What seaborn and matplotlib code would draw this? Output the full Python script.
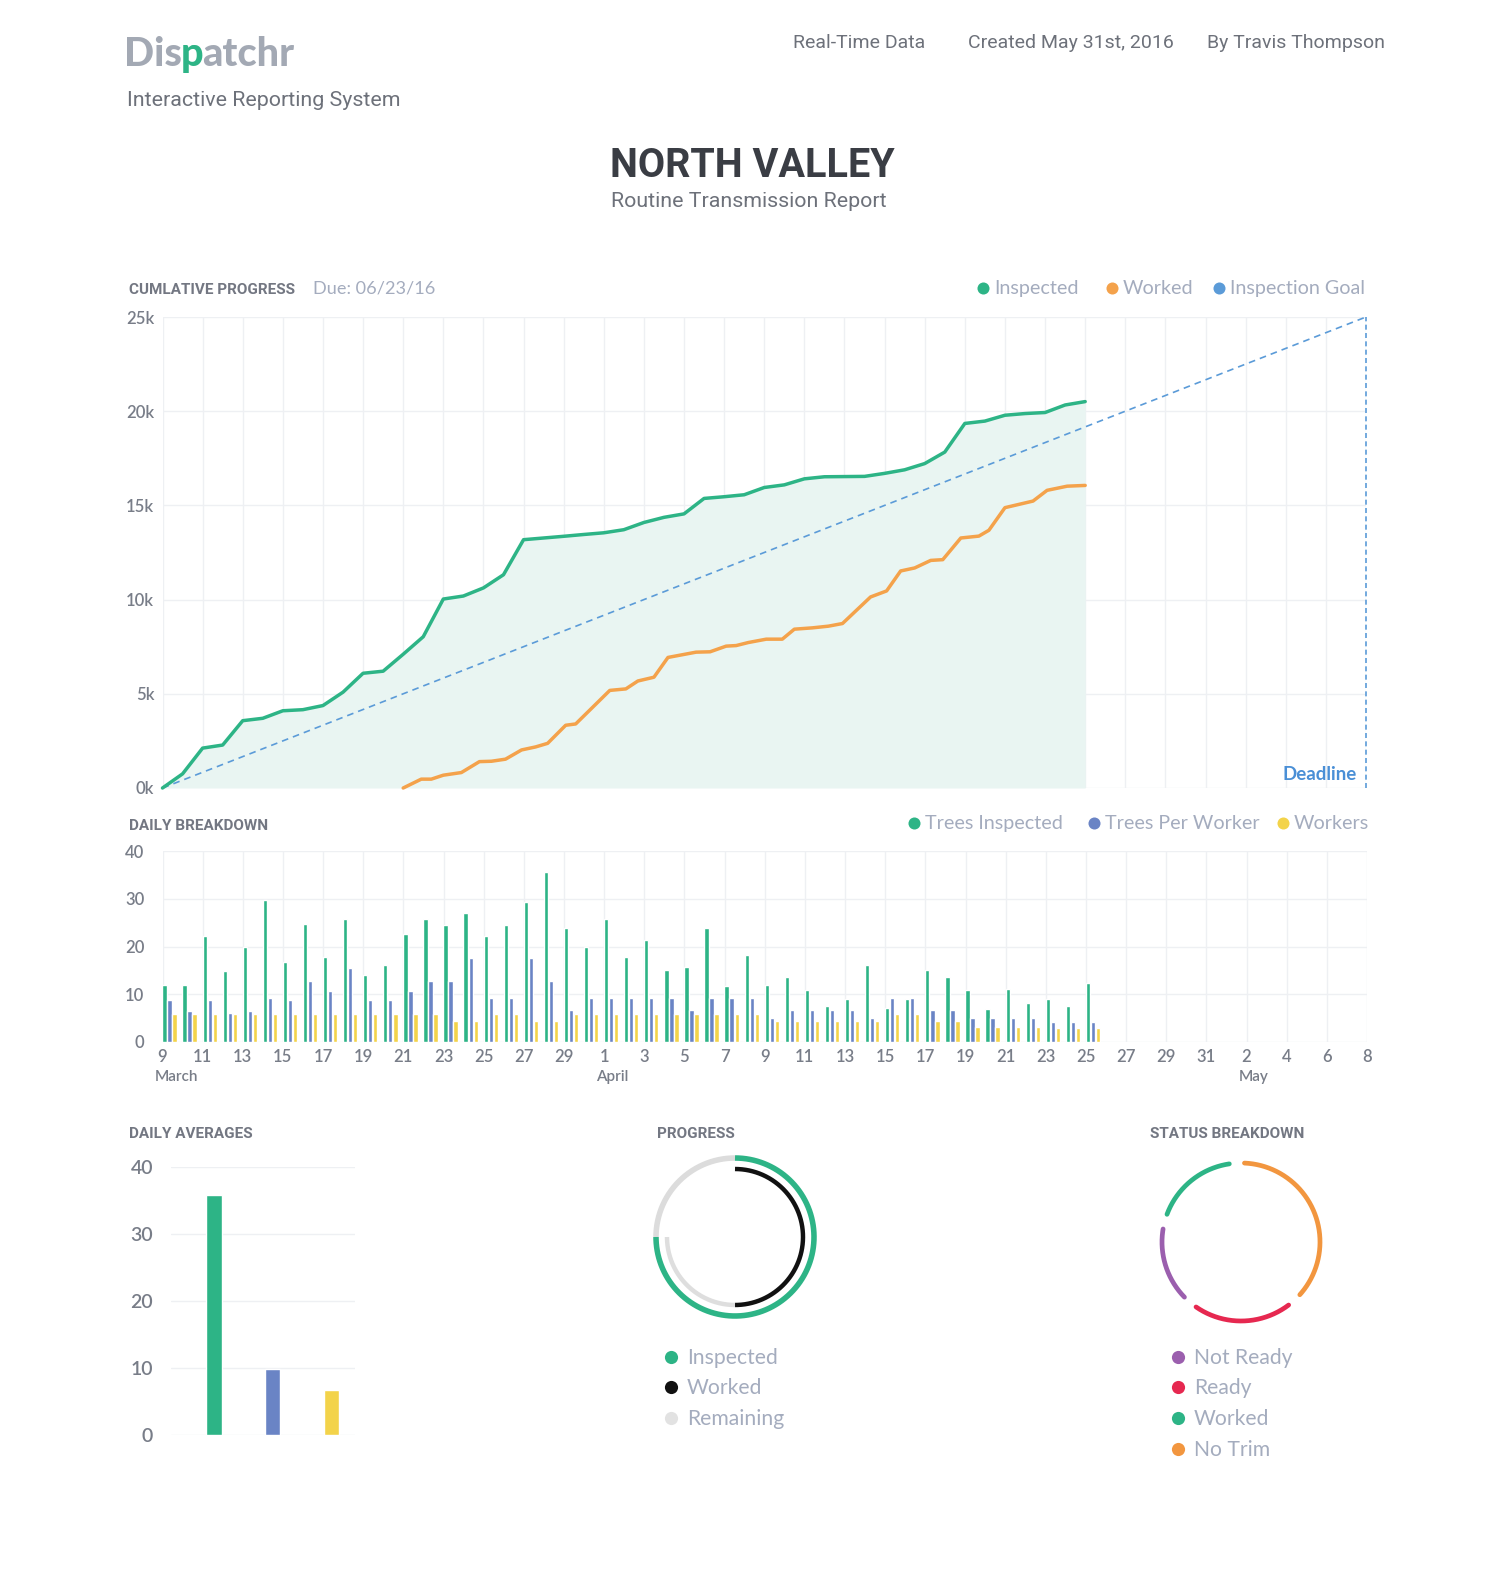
import numpy as np
import pandas as pd
import matplotlib
matplotlib.use('Agg')
import matplotlib.pyplot as plt
import matplotlib.transforms as mtransforms
import seaborn as sns

# ---- data ----
# cumulative progress (day index 0 = March 9)
days = list(range(47))
inspected_cum = [0, 750, 2117, 2280, 3573, 3700, 4100, 4157, 4376, 5087,
                 6090, 6200, 7100, 8030, 10030, 10190, 10620, 11320, 13180, 13270,
                 13360, 13456, 13546, 13710, 14093, 14366, 14550, 15370, 15460, 15565,
                 15950, 16090, 16410, 16520, 16530, 16540, 16700, 16890, 17220, 17830,
                 19350, 19475, 19785, 19875, 19930, 20330, 20510]
worked_x = [12.0, 12.9, 13.4, 14.0, 14.9, 15.8, 16.4, 17.1, 17.9, 18.6,
            19.2, 20.1, 20.6, 22.3, 23.1, 23.7, 24.5, 25.2, 26.0, 26.6,
            27.3, 28.1, 28.6, 29.2, 30.1, 30.9, 31.5, 32.4, 33.2, 33.9,
            35.3, 36.1, 36.8, 37.5, 38.3, 38.9, 39.8, 40.7, 41.2, 42.0,
            43.4, 44.1, 45.1, 46.0]
worked_cum = [0, 470, 470, 680, 820, 1400, 1420, 1530, 2020, 2180,
              2370, 3330, 3400, 5180, 5260, 5680, 5880, 6930, 7090, 7210,
              7230, 7530, 7560, 7720, 7900, 7900, 8430, 8500, 8590, 8730,
              10140, 10460, 11520, 11680, 12080, 12120, 13270, 13370, 13680, 14880,
              15230, 15800, 16020, 16060]
goal_x = [0, 60]
goal_y = [0, 25000]
deadline_day = 60

# daily breakdown
trees_inspected = [12.0, 12.0, 22.2, 14.9, 20.0, 29.7, 16.7, 24.7, 17.9, 25.8,
                   14.1, 16.2, 22.7, 25.8, 24.4, 27.1, 22.1, 24.4, 29.3, 35.5,
                   23.8, 20.0, 25.8, 17.9, 21.4, 15.1, 15.8, 23.8, 11.7, 18.3,
                   11.9, 13.7, 10.8, 7.6, 9.0, 16.2, 7.2, 9.0, 15.1, 13.7,
                   10.8, 6.9, 11.1, 8.2, 9.0, 7.6, 12.4]
trees_per_worker = [8.9, 6.4, 8.9, 6.1, 6.4, 9.2, 8.9, 12.8, 10.7, 15.4,
                    8.9, 8.9, 10.7, 12.8, 12.8, 17.6, 9.2, 9.2, 17.6, 12.8,
                    6.7, 9.2, 9.2, 9.2, 9.2, 9.2, 6.7, 9.2, 9.2, 9.2,
                    5.0, 6.8, 6.8, 6.8, 6.8, 5.0, 9.2, 9.2, 6.8, 6.8,
                    5.0, 5.0, 5.0, 5.0, 4.1, 4.1, 4.1]
workers = [5.8, 5.8, 5.8, 5.8, 5.8, 5.8, 5.8, 5.8, 5.8, 5.8,
           5.8, 5.8, 5.8, 5.8, 4.3, 4.3, 5.8, 5.8, 4.3, 4.3,
           5.8, 5.8, 5.8, 5.8, 5.8, 5.8, 5.8, 5.8, 5.8, 5.8,
           4.3, 4.3, 4.3, 4.3, 4.3, 4.3, 5.8, 5.8, 4.3, 4.3,
           3.2, 3.2, 3.2, 3.2, 3.0, 3.0, 3.0]
series_names = ['Trees Inspected', 'Trees Per Worker', 'Workers']
tick_labels = ['9', '11', '13', '15', '17', '19', '21', '23', '25', '27', '29',
               '1', '3', '5', '7', '9', '11', '13', '15', '17', '19', '21', '23',
               '25', '27', '29', '31', '2', '4', '6', '8']
month_labels = ['March', 'April', 'May']
month_ticks = [0, 22, 54]

# daily averages
avg_values = [35.8, 9.8, 6.7]

# progress rings (percent of circle)
progress_outer = [75, 25]   # Inspected, Remaining
progress_inner = [50, 25]   # Worked, Remaining

# status breakdown, clockwise from top
status_order = ['No Trim', 'Ready', 'Not Ready', 'Worked']
status_values = [39, 23, 18, 20]
status_legend = ['Not Ready', 'Ready', 'Worked', 'No Trim']

# ---- style ----
GREEN = '#2db486'
ORANGE = '#f4a24b'
BLUE = '#5b9bd8'
BAR_BLUE = '#6a84c5'
YELLOW = '#f3d34a'
FILL = '#e9f5f2'
GRID = '#eef0f3'
TICK = '#787d88'
LEG = '#a4acbe'
HEAD = '#6d717a'
status_colors = {'Not Ready': '#9b5fae', 'Ready': '#e62850', 'Worked': GREEN, 'No Trim': '#f2963f'}

sns.set_theme(style='white')
plt.rcParams['font.family'] = ['Lato', 'DejaVu Sans']
DIN = ['Roboto', 'DejaVu Sans']

W, H = 1500, 1592
fig = plt.figure(figsize=(W / 100, H / 100), dpi=100)
fig.patch.set_facecolor('white')


def box(x0, y0, x1, y1):
    return [x0 / W, 1 - y1 / H, (x1 - x0) / W, (y1 - y0) / H]


# overlay in pixel coordinates for header / legends
bg = fig.add_axes([0, 0, 1, 1])
bg.set_xlim(0, W)
bg.set_ylim(H, 0)
bg.axis('off')

# logo
fig.canvas.draw()
r = fig.canvas.get_renderer()
x = 124
for part, col in [('Dis', '#a3a9b4'), ('p', GREEN), ('atchr', '#a3a9b4')]:
    t = bg.text(x, 66, part, fontsize=28.5, fontweight='black', color=col, va='baseline')
    x += t.get_window_extent(r).width - 1

bg.text(127, 106, 'Interactive Reporting System', family=DIN, fontsize=15.4, color=HEAD, va='baseline')
bg.text(793, 48, 'Real-Time Data', family=DIN, fontsize=14, color=HEAD, va='baseline')
bg.text(968, 48, 'Created May 31st, 2016', family=DIN, fontsize=14, color=HEAD, va='baseline')
bg.text(1385, 48, 'By Travis Thompson', family=DIN, fontsize=14, color=HEAD, va='baseline', ha='right')
bg.text(752, 177, 'NORTH VALLEY', family=DIN, fontsize=28.5, fontweight='bold', color='#3a3d44',
        ha='center', va='baseline')
bg.text(749, 207, 'Routine Transmission Report', family=DIN, fontsize=15.4, color=HEAD,
        ha='center', va='baseline')

# section headings
for xh, yh, txt in [(129, 294, 'CUMLATIVE PROGRESS'), (129, 830, 'DAILY BREAKDOWN'),
                    (129, 1138, 'DAILY AVERAGES'), (657, 1138, 'PROGRESS'),
                    (1150, 1138, 'STATUS BREAKDOWN')]:
    bg.text(xh, yh, txt, family=DIN, fontsize=11, fontweight='bold', color='#737782', va='baseline')
bg.text(313, 294, 'Due: 06/23/16', fontsize=13.1, color=LEG, va='baseline')


def legend_item(x, y, label, color, size=14.2, s=75):
    bg.scatter([x], [y - 6], s=s, color=color, linewidths=0)
    bg.text(x + 11, y, label, fontsize=size, color=LEG, va='baseline')


for xl, lab, col in [(983, 'Inspected', GREEN), (1112, 'Worked', ORANGE), (1219, 'Inspection Goal', BLUE)]:
    legend_item(xl, 294, lab, col)
for xl, lab, col in [(914, series_names[0], GREEN), (1094, series_names[1], BAR_BLUE), (1283, series_names[2], YELLOW)]:
    legend_item(xl, 829, lab, col)
for yl, lab, col in zip([1364, 1394, 1425], ['Inspected', 'Worked', 'Remaining'], [GREEN, '#111111', '#e2e2e2']):
    bg.scatter([671], [yl - 7], s=90, color=col, linewidths=0)
    bg.text(687, yl, lab, fontsize=15.2, color=LEG, va='baseline')
for yl, lab in zip([1364, 1394, 1425, 1456], status_legend):
    bg.scatter([1178], [yl - 7], s=90, color=status_colors[lab], linewidths=0)
    bg.text(1194, yl, lab, fontsize=15.2, color=LEG, va='baseline')

# ---- cumulative progress ----
ax1 = fig.add_axes(box(162.5, 317, 1366, 788))
ax1.set_facecolor('none')
ax1.fill_between(days, inspected_cum, color=FILL, lw=0, zorder=1)
sns.lineplot(x=days, y=inspected_cum, color=GREEN, lw=2.5, ax=ax1, zorder=4, clip_on=False)
sns.lineplot(x=worked_x, y=worked_cum, color=ORANGE, lw=2.5, ax=ax1, zorder=4, clip_on=False)
ax1.plot(goal_x, goal_y, color=BLUE, lw=1.2, ls=(0, (4, 3)), zorder=3)
ax1.plot([deadline_day, deadline_day], [0, goal_y[-1]], color=BLUE, lw=1.2, ls=(0, (3, 2)), zorder=3,
         clip_on=False)
ax1.text(deadline_day - 0.45, 420, 'Deadline', color='#4a8fd6', fontsize=13.5, fontweight='bold',
         ha='right', va='baseline')
ax1.set_xlim(0, 60)
ax1.set_ylim(0, 25000)
ax1.set_xticks(range(0, 61, 2))
ax1.set_xticklabels([])
ax1.set_yticks(range(0, 25001, 5000))
ax1.set_yticklabels([f'{v // 1000}k' for v in range(0, 25001, 5000)])
ax1.grid(True, color=GRID, lw=1, zorder=0)
ax1.set_axisbelow(True)
ax1.set_xlabel('')
ax1.set_ylabel('')
for s in ax1.spines.values():
    s.set_visible(False)
ax1.tick_params(length=0, pad=6, labelsize=12, labelcolor=TICK)
for lab in ax1.get_yticklabels():
    lab.set_fontweight('semibold')

# ---- daily breakdown ----
ax2 = fig.add_axes(box(162.5, 851, 1367, 1042))
ax2.set_facecolor('none')
df_daily = pd.DataFrame({
    'day': days * 3,
    'value': trees_inspected + trees_per_worker + workers,
    'series': [n for n in series_names for _ in days],
})
df_daily['pos'] = df_daily['day'] + 0.35
sns.barplot(data=df_daily, x='pos', y='value', hue='series', hue_order=series_names,
            palette=[GREEN, BAR_BLUE, YELLOW], native_scale=True, width=0.75, gap=0.15,
            errorbar=None, saturation=1, legend=False, ax=ax2, zorder=3)
ax2.set_xlim(0, 60)
ax2.set_ylim(0, 40)
ax2.set_xticks(range(0, 61, 2))
ax2.set_xticklabels(tick_labels)
ax2.set_yticks(range(0, 41, 10))
ax2.grid(True, color=GRID, lw=1, zorder=0)
ax2.set_axisbelow(True)
ax2.set_xlabel('')
ax2.set_ylabel('')
for s in ax2.spines.values():
    s.set_visible(False)
ax2.tick_params(axis='y', length=0, pad=13, labelsize=12, labelcolor=TICK)
ax2.tick_params(axis='x', length=0, pad=5, labelsize=12, labelcolor=TICK)
for lab in ax2.get_xticklabels() + ax2.get_yticklabels():
    lab.set_fontweight('semibold')
trans = mtransforms.blended_transform_factory(ax2.transData, ax2.transAxes)
for mt, ml in zip(month_ticks, month_labels):
    ax2.text(mt - 0.4, -0.205, ml, transform=trans, fontsize=11, color=TICK, fontweight='semibold',
             ha='left', va='baseline')

# ---- daily averages ----
ax3 = fig.add_axes(box(171, 1167, 355, 1435))
ax3.set_facecolor('none')
sns.barplot(x=series_names, y=avg_values, hue=series_names, palette=[GREEN, BAR_BLUE, YELLOW],
            width=0.265, saturation=1, legend=False, ax=ax3, zorder=3)
ax3.set_xlim(-0.73, 2.4)
ax3.set_ylim(0, 40)
ax3.set_yticks(range(0, 41, 10))
ax3.set_xticks([])
ax3.yaxis.grid(True, color=GRID, lw=1)
ax3.set_axisbelow(True)
for s in ax3.spines.values():
    s.set_visible(False)
ax3.tick_params(axis='y', length=0, pad=13, labelsize=14, labelcolor=TICK)
for lab in ax3.get_yticklabels():
    lab.set_fontweight('semibold')


# ---- rings ----
def arc(ax, radius, f0, f1, color, lw, cap):
    th = np.linspace(f0, f1, 300) * 2 * np.pi
    ax.plot(radius * np.sin(th), radius * np.cos(th), color=color, lw=lw, solid_capstyle=cap)


ax4 = fig.add_axes(box(735 - 110, 1237 - 110, 735 + 110, 1237 + 110))
ax4.axis('off')
ax4.set_xlim(-110, 110)
ax4.set_ylim(-110, 110)
o = np.cumsum([0] + progress_outer) / 100
arc(ax4, 79, o[1], o[2], '#dcdcdc', 4, 'butt')
arc(ax4, 79, o[0], o[1], GREEN, 4, 'butt')
i = np.cumsum([0] + progress_inner) / 100
arc(ax4, 68, i[0], i[1], '#111111', 3.2, 'butt')
arc(ax4, 68, i[1], i[2], '#dedede', 3.2, 'butt')

ax5 = fig.add_axes(box(1241 - 110, 1242 - 110, 1241 + 110, 1242 + 110))
ax5.axis('off')
ax5.set_xlim(-110, 110)
ax5.set_ylim(-110, 110)
bounds = np.cumsum([0] + status_values) / sum(status_values) - 3 / 360
gap = 11 / 360
for k, lab in enumerate(status_order):
    arc(ax5, 79, bounds[k] + gap / 2, bounds[k + 1] - gap / 2, status_colors[lab], 3.4, 'round')

fig.savefig('out.png', dpi=100, facecolor='white')
